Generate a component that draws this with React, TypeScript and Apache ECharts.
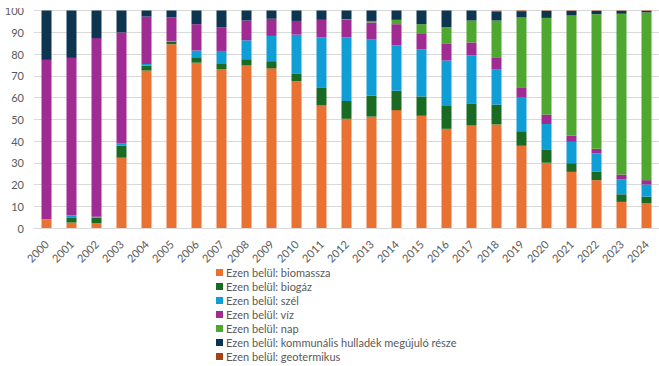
import React, { useEffect, useRef } from "react";
import * as echarts from "echarts";

const years = ["2000","2001","2002","2003","2004","2005","2006","2007","2008","2009","2010","2011","2012","2013","2014","2015","2016","2017","2018","2019","2020","2021","2022","2023","2024"];

const biomassza = [4, 2.5, 2.2, 32.3, 72.4, 84.5, 76, 73.1, 74.7, 73.4, 67.4, 56.4, 50.2, 51.2, 54.2, 51.6, 45.6, 47.3, 47.6, 37.8, 30.0, 25.8, 22.0, 12.0, 11.5];
const biogaz = [0, 2.4, 2.6, 5.5, 2.3, 1.2, 2.5, 2.3, 2.9, 3.3, 3.7, 8.0, 8.2, 9.6, 8.9, 8.9, 10.5, 10.0, 9.1, 6.7, 5.9, 4.0, 4.0, 3.5, 2.9];
const szel = [0, 0.8, 0.4, 1.1, 0.7, 0.3, 3.1, 6.0, 8.7, 11.6, 17.8, 23.2, 29.2, 25.8, 20.9, 21.7, 20.9, 22.0, 16.1, 15.4, 11.9, 9.8, 8.3, 6.9, 5.6];
const viz = [73.3, 72.5, 82.1, 51.0, 21.8, 10.9, 12.1, 10.9, 9.1, 7.9, 6.3, 8.1, 8.1, 7.9, 9.7, 7.0, 7.9, 6.0, 5.7, 4.8, 4.4, 2.8, 2.1, 2.2, 2.0];
const nap = [0, 0, 0, 0, 0, 0, 0, 0, 0, 0, 0, 0, 0.3, 0.7, 2.0, 4.5, 7.4, 10.1, 16.9, 32.1, 44.4, 55.3, 61.9, 73.9, 77.1];
const kommunalis = [22.7, 21.8, 12.7, 10.1, 2.8, 3.1, 6.3, 7.7, 4.6, 3.8, 4.8, 4.3, 4.0, 4.8, 4.3, 6.3, 7.7, 4.6, 4.2, 2.9, 3.2, 2.1, 1.5, 1.3, 0.7];
const geotermikus = [0, 0, 0, 0, 0, 0, 0, 0, 0, 0, 0, 0, 0, 0, 0, 0, 0, 0, 0.3, 0.3, 0.2, 0.2, 0.2, 0.2, 0.2];

const seriesNames = [
  "Ezen belül: biomassza",
  "Ezen belül: biogáz",
  "Ezen belül: szél",
  "Ezen belül: víz",
  "Ezen belül: nap",
  "Ezen belül: kommunális hulladék megújuló része",
  "Ezen belül: geotermikus",
];
const seriesData = [biomassza, biogaz, szel, viz, nap, kommunalis, geotermikus];
const colors = ["#E97132", "#196B24", "#0F9ED5", "#A02B93", "#4EA72E", "#0E3550", "#A5421B"];

export default function App() {
  const ref = useRef<HTMLDivElement>(null);
  useEffect(() => {
    if (!ref.current) return;
    const chart = echarts.init(ref.current, null, { renderer: "svg" });
    const font = "Lato";
    chart.setOption({
      animation: false,
      color: colors,
      grid: { left: 34, right: -5, top: 10.5, bottom: 138 },
      legend: {
        orient: "vertical",
        left: 216,
        top: 267,
        height: 120,
        padding: 0,
        icon: "rect",
        itemWidth: 7,
        itemHeight: 7,
        itemGap: 3,
        textStyle: { fontFamily: font, fontSize: 11, color: "#595959", padding: [0, 0, 0, -2] },
        data: seriesNames,
      },
      xAxis: {
        type: "category",
        data: years,
        axisLine: { lineStyle: { color: "#d9d9d9" } },
        axisTick: { show: false },
        axisLabel: { rotate: 45, fontFamily: font, fontSize: 11, color: "#595959", margin: 14, interval: 0 },
      },
      yAxis: {
        type: "value",
        min: 0,
        max: 100,
        interval: 10,
        axisLine: { show: false },
        axisTick: { show: false },
        axisLabel: { fontFamily: font, fontSize: 11, color: "#595959", margin: 10 },
        splitLine: { lineStyle: { color: "#d9d9d9" } },
      },
      graphic: [
        { type: "rect", z: 100, shape: { x: 0, y: 0, width: 32, height: 8 }, style: { fill: "#fff" } },
      ],
      series: seriesNames.map((name, i) => ({
        name,
        type: "bar",
        stack: "total",
        barWidth: 10,
        data: seriesData[i],
      })),
    });
    return () => chart.dispose();
  }, []);
  return <div ref={ref} style={{ position: "absolute", left: 0, top: 0, width: 659, height: 366 }} />;
}
